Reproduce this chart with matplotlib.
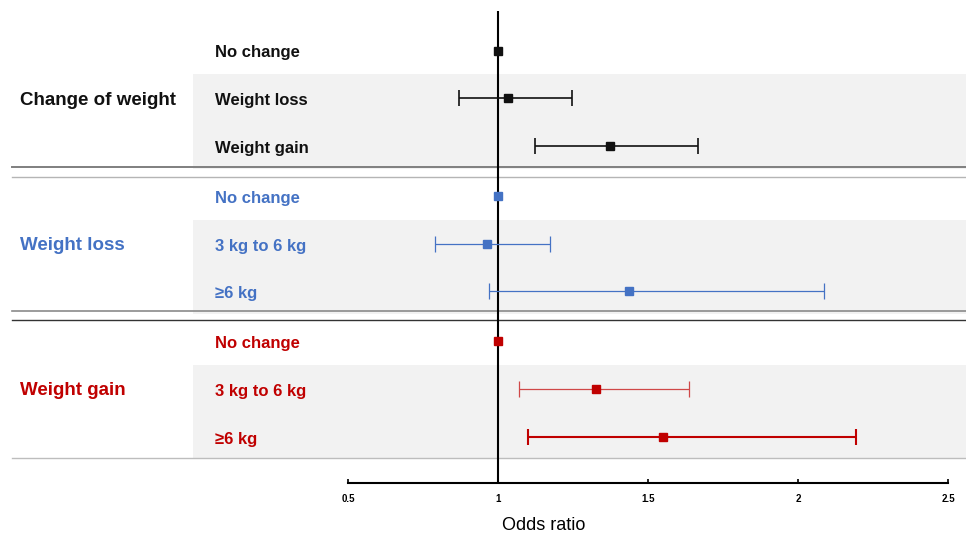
import matplotlib.pyplot as plt
import numpy as np

plt.rcParams['font.family'] = ['Liberation Sans', 'DejaVu Sans']

## data
groups = ["Change of weight", "Weight loss", "Weight gain"]
row_labels = [["No change", "Weight loss", "Weight gain"],
              ["No change", "3 kg to 6 kg", "\u22656 kg"],
              ["No change", "3 kg to 6 kg", "\u22656 kg"]]
odds = [[1.0, 1.034, 1.374],
        [1.0, 0.962, 1.435],
        [1.0, 1.325, 1.549]]
ci_low = [[np.nan, 0.871, 1.123],
          [np.nan, 0.790, 0.971],
          [np.nan, 1.070, 1.100]]
ci_high = [[np.nan, 1.246, 1.668],
           [np.nan, 1.173, 2.088],
           [np.nan, 1.636, 2.194]]
ticks = [0.5, 1, 1.5, 2, 2.5]
tick_labels = ["0.5", "1", "1.5", "2", "2.5"]

colors = ["#111111", "#4472C4", "#C00000"]
line_w = [[1.2, 1.2, 1.2], [0.9, 0.9, 0.9], [1.0, 0.9, 1.5]]
cap_col = [["#111111"] * 3, ["#4472C4"] * 3, ["#C00000", "#D04848", "#C00000"]]

W, H = 966, 537
fig = plt.figure(figsize=(W / 100, H / 100), dpi=100)
ax = fig.add_axes([0, 0, 1, 1])
# x in odds units: 0.5 -> px 348, 2.5 -> px 948
ppu = 300.0
ax.set_xlim(0.5 - 348 / ppu, 0.5 + (W - 348) / ppu)
ax.set_ylim(H, 0)  # y in pixels from top

row_gap = 47.8
group_gap = 145.3
y0 = 50.5

def ypos(g, r):
    return y0 + g * group_gap + r * row_gap

# x in axes fraction, y in data
tr = ax.get_yaxis_transform()

# shading of rows 2-3 in each group
for g in range(3):
    top = ypos(g, 1) - 24
    bot = ypos(g, 2) + 22.5
    ax.axhspan(top, bot, xmin=193 / W, xmax=1, color="#f2f2f2", lw=0, zorder=0)

# separators
ax.axhline(167, xmin=12 / W, xmax=1, color="#7f7f7f", lw=1.4, zorder=1)
ax.axhline(177, xmin=12 / W, xmax=1, color="#b5b5b5", lw=1.0, zorder=1)
ax.axhline(311, xmin=12 / W, xmax=1, color="#8a8a8a", lw=1.2, zorder=1)
ax.axhline(320, xmin=12 / W, xmax=1, color="#333333", lw=1.0, zorder=1)
ax.axhline(458, xmin=12 / W, xmax=1, color="#bdbdbd", lw=1.0, zorder=1)

axis_y = 483
ax.vlines(1, 11, axis_y, color="black", lw=1.5, zorder=3)

for g in range(3):
    c = colors[g]
    ax.text(20 / W, ypos(g, 1) + 2, groups[g], color=c, fontsize=13.5,
            fontweight="bold", va="center", ha="left", transform=tr)
    for r in range(3):
        y = ypos(g, r)
        ax.text(215 / W, y + 2.5, row_labels[g][r], color=c, fontsize=12,
                fontweight="bold", va="center", ha="left", transform=tr)
        lo, hi, v = ci_low[g][r], ci_high[g][r], odds[g][r]
        if not np.isnan(lo):
            ax.errorbar(v, y, xerr=[[v - lo], [hi - v]], fmt="none",
                        ecolor=cap_col[g][r], elinewidth=line_w[g][r],
                        capsize=5.5, capthick=line_w[g][r], zorder=4)
        ax.plot(v, y, marker="s", ms=6, color=c, ls="none", zorder=5)

# bottom axis
for s in ["top", "left", "right"]:
    ax.spines[s].set_visible(False)
ax.spines["bottom"].set_position(("data", axis_y))
ax.spines["bottom"].set_bounds(0.5, 2.5)
ax.spines["bottom"].set_linewidth(1.5)
ax.set_xticks(ticks)
ax.set_xticklabels(tick_labels, fontsize=7, fontweight="bold")
ax.tick_params(axis="x", direction="in", length=3, width=1.2, pad=8)
ax.set_yticks([])

fig.text(544 / W, 1 - 525 / H, "Odds ratio", ha="center", va="center",
         fontsize=13)

fig.savefig("out.png", dpi=100)
